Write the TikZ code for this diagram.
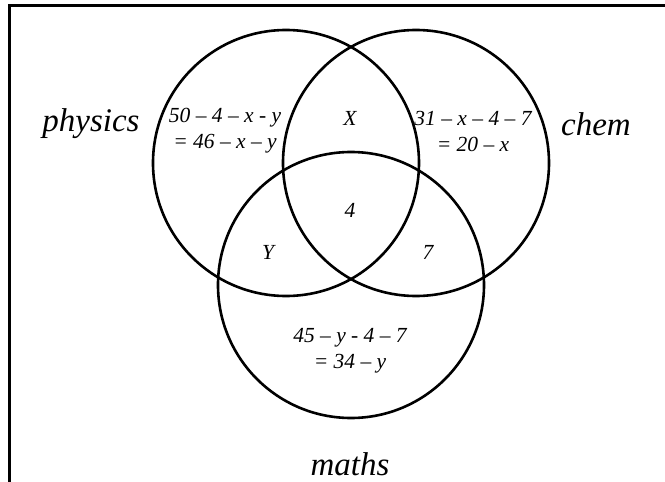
\documentclass[tikz,border=0pt]{standalone}
\usepackage{fontspec}
\setmainfont{Liberation Serif}
\begin{document}
\begin{tikzpicture}[x=1pt,y=-1pt,
  circ/.style={draw=black,line width=2.6pt},
  frame/.style={draw=black,line width=2.8pt},
  lbl/.style={font=\fontsize{33}{36}\selectfont\itshape,inner sep=0pt},
  reg/.style={font=\fontsize{21.5}{26}\selectfont\itshape,align=center,inner sep=0pt}]
\useasboundingbox (0,0) rectangle (665,482);
\coordinate (fa) at (665,5.5);
\coordinate (fb) at (9.5,5.5);
\coordinate (fc) at (9.5,482);
\draw[frame] (fa) -- (fb) -- (fc);
\node[circ,circle,minimum size=266pt,inner sep=0pt] (phys) at (286,163) {};
\node[circ,circle,minimum size=266pt,inner sep=0pt] (chemc) at (416,163) {};
\node[circ,circle,minimum size=266pt,inner sep=0pt] (mathc) at (351,285) {};
\node[lbl] (lp) at (91,124) {physics};
\node[lbl] (lc) at (596,124) {chem};
\node[lbl] (lm) at (350,464) {maths};
\node[reg] (r1) at (225,131) {50 – 4 – x - y\\= 46 – x – y};
\node[reg] (r2) at (350,118) {X};
\node[reg] (r3) at (473,131) {31 – x – 4 – 7\\= 20 – x};
\node[reg] (r4) at (350,210) {4};
\node[reg] (r5) at (268,252) {Y};
\node[reg] (r6) at (428,252) {7};
\node[reg] (r7) at (350,351) {45 – y - 4 – 7\\= 34 – y};
\end{tikzpicture}
\end{document}
